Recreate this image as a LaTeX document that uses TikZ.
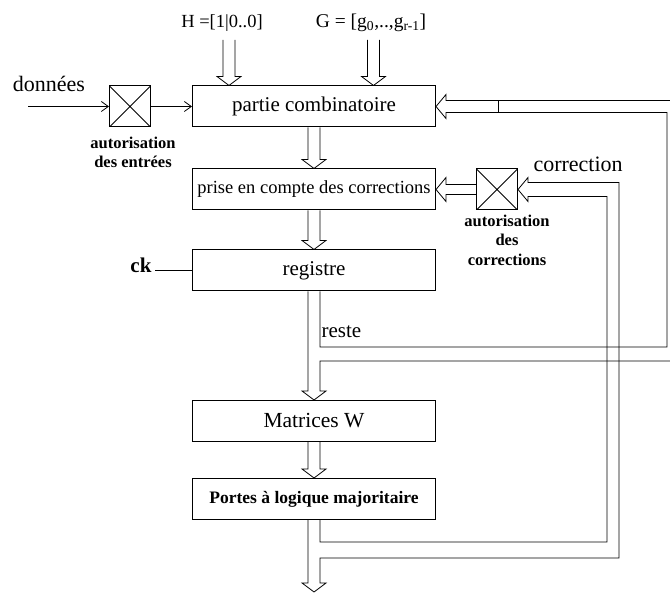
\documentclass[tikz,border=0pt]{standalone}
\usepackage{fontspec}
\setmainfont{Liberation Serif}
\usetikzlibrary{calc, arrows.meta}

\tikzset{
  bloc/.style={draw, line width=1pt, minimum width=243pt, minimum height=41pt, inner sep=0pt},
  porte/.style={draw, line width=1pt, minimum size=41pt, inner sep=0pt,
    path picture={\draw[line width=0.8pt] (path picture bounding box.north west) -- (path picture bounding box.south east)
      (path picture bounding box.north east) -- (path picture bounding box.south west);}},
  bus/.style={line width=0.8pt},
  fil/.style={line width=0.8pt, -{Straight Barb[length=7pt,width=10pt]}},
  legende/.style={align=center, font={\fontsize{16.5}{19.5}\selectfont\bfseries}},
}
% fleche creuse vers le bas
\newcommand{\busdown}[2]{%
  \draw[bus] ($(#1)+(-6,0)$) -- ($(#2)+(-6,-9)$) -- ++(-6,0) -- (#2) -- ++(12,-9) -- ++(-6,0) -- ($(#1)+(6,0)$);}
% fleche creuse vers la gauche
\newcommand{\busleft}[2]{%
  \draw[bus] ($(#1)+(0,-5)$) -- ($(#2)+(10,-5)$) -- ++(0,-7) -- (#2) -- ++(10,12) -- ++(0,-7) -- ($(#1)+(0,5)$);}

\begin{document}
\begin{tikzpicture}[x=1pt, y=-1pt]
  \useasboundingbox (0,0) rectangle (670,593);

  % blocs
  \node[bloc, font={\fontsize{21}{24}\selectfont}] (comb) at (314,106.5) {partie combinatoire};
  \node[bloc, font={\fontsize{18.5}{22}\selectfont}] (prise) at (314,189.5) {prise en compte des corrections};
  \node[bloc, font={\fontsize{21}{24}\selectfont}] (reg) at (314,270.5) {registre};
  \node[bloc, font={\fontsize{21.5}{24}\selectfont}] (matw) at (314,421) {Matrices W};
  \node[bloc, font={\fontsize{17.5}{20}\selectfont\bfseries}] (portes) at (314,499) {Portes à logique majoritaire};

  % autorisations
  \node[porte] (ent) at (130,106.5) {};
  \node[porte] (cor) at (497,189.5) {};
  \node[legende] (ent-lab) at (133,152.5) {autorisation\\des entrées};
  \node[legende] (cor-lab) at (507,240) {autorisation\\des\\corrections};

  % textes
  \node[anchor=base, font={\fontsize{22}{24}\selectfont}] (don) at (49,92) {données};
  \node[font={\fontsize{18.5}{22}\selectfont}] (hlab) at (222,23) {H =[1|0..0]};
  \node[font={\fontsize{19.5}{22}\selectfont}] (glab) at (371,23) {G = [g\textsubscript{0},..,g\textsubscript{r-1}]};
  \node[anchor=base west, font={\fontsize{22}{24}\selectfont}] (corr) at (530,172) {correction};
  \node[anchor=base east, font={\fontsize{21}{24}\selectfont\bfseries}] (ck) at (155,273) {ck};
  \node[anchor=base west, font={\fontsize{21}{24}\selectfont}] (reste) at (318,338) {reste};

  % entrees
  \coordinate (din) at (28,106.5);
  \coordinate (hin) at (229,40);
  \coordinate (gin) at (373.5,40);
  \coordinate (htip) at (comb.north -| hin);
  \coordinate (gtip) at (comb.north -| gin);
  \coordinate (sortie) at (314,592);

  \draw[fil] (din) -- (ent.west);
  \draw[fil] (ent.east) -- (comb.west);
  \draw[bus] (reg.west) -- (reg.west -| ck.east);

  \busdown{hin}{htip}
  \busdown{gin}{gtip}
  \busdown{comb.south}{prise.north}
  \busdown{prise.south}{reg.north}
  \busdown{matw.south}{portes.north}
  \busleft{cor.west}{prise.east}

  % reste
  \draw[bus] ($(reg.south)+(-6,0)$) -- ($(matw.north)+(-6,-9)$) -- ++(-6,0) -- (matw.north) -- ++(12,-9) -- ++(-6,0) |- (670,361);
  \draw[bus] ($(reg.south)+(6,0)$) |- (667,347) |- ($(comb.east)+(10,6)$) -- ++(0,6) -- (comb.east) -- ++(10,-12) -- ++(0,6) -- (670,100.5);
  \draw[bus] (498,100.5) -- (498,112.5);

  % corrections
  \draw[bus] ($(portes.south)+(6,0)$) |- (607,542) |- ($(cor.east)+(10,7)$) -- ++(0,5) -- (cor.east) -- ++(10,-12) -- ++(0,5)
    -| (619,558) -| ($(sortie)+(6,-9)$) -- ++(6,0) -- (sortie) -- ++(-12,-9) -- ++(6,0) -- ($(portes.south)+(-6,0)$);
\end{tikzpicture}
\end{document}
